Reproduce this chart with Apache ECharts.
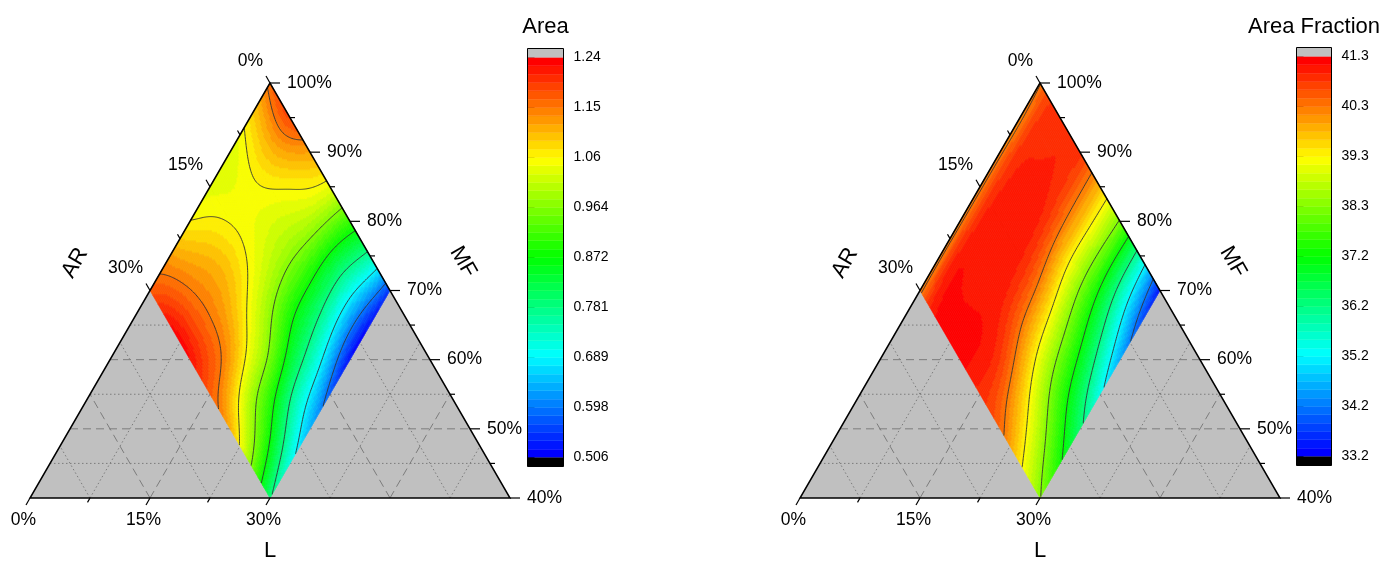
<!DOCTYPE html>
<html>
<head>
<meta charset="utf-8">
<title>Area / Area Fraction ternary contours</title>
<script src="https://cdn.jsdelivr.net/npm/echarts@6/dist/echarts.min.js"></script>
<style>
  html, body { margin: 0; padding: 0; background: #fff; }
  #chart { width: 1386px; height: 561px; }
</style>
</head>
<body>
<div id="chart"></div>
<script>
// Composition nodes (%) at which both responses were sampled (MF = 100 - AR - L)
const AR_NODES = [0, 5, 10, 15, 20, 25, 30];
const L_NODES_AREA = [0, 5, 10, 15, 20, 25, 30];
const L_NODES_FRACTION = [0, 2, 5, 10, 15, 20, 25, 30];

// Area: one row per AR node, one column per L node
const AREA = [
  [1.160, 1.185, 1.120, 1.040, 0.910, 0.760, 0.550],
  [1.075, 1.100, 1.060, 1.000, 0.865, 0.710, 0.520],
  [1.030, 1.050, 1.030, 0.975, 0.860, 0.715, 0.520],
  [1.035, 1.055, 1.050, 0.990, 0.880, 0.750, 0.575],
  [1.058, 1.100, 1.100, 1.045, 0.950, 0.790, 0.640],
  [1.120, 1.150, 1.155, 1.120, 1.000, 0.880, 0.710],
  [1.170, 1.225, 1.225, 1.170, 1.110, 0.975, 0.790]
];

// Area Fraction (%): one row per AR node, one column per L node
const AREA_FRACTION = [
  [40.25, 40.70, 40.90, 40.85, 39.75, 38.20, 35.85, 33.40],
  [40.15, 40.75, 40.95, 40.85, 39.75, 38.10, 36.00, 33.90],
  [40.15, 40.80, 41.00, 40.95, 39.80, 38.20, 36.50, 34.60],
  [40.15, 40.85, 41.02, 41.00, 40.10, 38.60, 37.10, 35.40],
  [40.15, 40.90, 41.05, 41.05, 40.35, 39.05, 37.70, 36.40],
  [40.15, 40.95, 41.14, 41.14, 40.80, 39.75, 38.60, 37.35],
  [40.15, 40.85, 41.20, 41.20, 40.90, 40.45, 39.40, 38.30]
];

// Colour scale ranges and their tick labels
const AREA_RANGE = [0.506, 1.24];
const AREA_TICKS = ['0.506', '0.598', '0.689', '0.781', '0.872', '0.964', '1.06', '1.15', '1.24'];
const FRACTION_RANGE = [33.2, 41.3];
const FRACTION_TICKS = ['33.2', '34.2', '35.2', '36.2', '37.2', '38.3', '39.3', '40.3', '41.3'];

// Ternary axis ticks (%)
const MF_MAJOR = [100, 90, 80, 70, 60, 50, 40];
const MF_MINOR = [95, 85, 75, 65, 55, 45];
const AR_MAJOR = [0, 15, 30];
const AR_MINOR = [7.5, 22.5];
const L_MAJOR = [0, 15, 30];
const L_MINOR = [7.5, 22.5];

// Grid lines across the unsampled part of the triangle
const GRID_MAJOR_SIDE = [15, 45];            // constant AR and constant L
const GRID_MINOR_SIDE = [7.5, 22.5, 37.5, 52.5];
const GRID_MAJOR_MF = [60, 50];
const GRID_MINOR_MF = [65, 55, 45];

const BANDS = 48;          // colour levels per scale
const MAJOR_EVERY = 6;     // a labelled tick and a contour line every 6 levels
const STEP = 0.25;         // resampling step in % composition
const N = Math.round(30 / STEP);
const FONT = '"Liberation Sans", Arial, Helvetica, sans-serif';
const S60 = Math.sqrt(3) / 2;

// ternary (AR, L) -> cartesian data coordinates of the hidden axes
function T(ar, l) { return [l - ar, ar + l]; }

const STOPS = [[0, 0, 255], [0, 255, 255], [0, 255, 0], [255, 255, 0], [255, 0, 0]];
function bandColor(k) {
  if (k < 0) return '#000000';
  if (k >= BANDS) return '#c0c0c0';
  const t = k / (BANDS - 1) * 4;
  const i = Math.min(3, Math.floor(t)), f = t - i;
  const a = STOPS[i], b = STOPS[i + 1];
  const c = a.map((v, n) => Math.round(v + (b[n] - v) * f));
  return 'rgb(' + c[0] + ',' + c[1] + ',' + c[2] + ')';
}

// natural cubic spline: second derivatives at the nodes
function splineM(x, y) {
  const n = x.length, M = new Array(n).fill(0);
  if (n < 3) return M;
  const a = [], b = [], c = [], r = [];
  for (let i = 1; i < n - 1; i++) {
    const h0 = x[i] - x[i - 1], h1 = x[i + 1] - x[i];
    a.push(h0); b.push(2 * (h0 + h1)); c.push(h1);
    r.push(6 * ((y[i + 1] - y[i]) / h1 - (y[i] - y[i - 1]) / h0));
  }
  const m = b.length;
  for (let i = 1; i < m; i++) {
    const w = a[i] / b[i - 1];
    b[i] -= w * c[i - 1]; r[i] -= w * r[i - 1];
  }
  const s = new Array(m);
  s[m - 1] = r[m - 1] / b[m - 1];
  for (let i = m - 2; i >= 0; i--) s[i] = (r[i] - c[i] * s[i + 1]) / b[i];
  for (let i = 0; i < m; i++) M[i + 1] = s[i];
  return M;
}
function splineEval(x, y, M, q) {
  let i = 0;
  while (i < x.length - 2 && q > x[i + 1]) i++;
  const h = x[i + 1] - x[i], A = (x[i + 1] - q) / h, B = (q - x[i]) / h;
  return A * y[i] + B * y[i + 1] + ((A * A * A - A) * M[i] + (B * B * B - B) * M[i + 1]) * h * h / 6;
}

// resample the table onto a fine (AR, L) lattice
function sampleField(arNodes, lNodes, table) {
  const rowM = table.map(row => splineM(lNodes, row));
  const F = [];
  for (let i = 0; i <= N; i++) F.push(new Float64Array(N + 1));
  for (let j = 0; j <= N; j++) {
    const l = j * STEP;
    const col = table.map((row, r) => splineEval(lNodes, row, rowM[r], l));
    const cm = splineM(arNodes, col);
    for (let i = 0; i <= N; i++) F[i][j] = splineEval(arNodes, col, cm, i * STEP);
  }
  return F;
}

function bandOf(v, range) {
  const k = Math.floor((v - range[0]) / (range[1] - range[0]) * BANDS);
  return k < 0 ? -1 : (k >= BANDS ? BANDS : k);
}

// runs of equal colour level along L, one row of the lattice at a time
function buildCells(F, range) {
  const out = [];
  for (let i = 0; i < N; i++) {
    let start = 0, cur = null;
    for (let j = 0; j <= N; j++) {
      let k = null;
      if (j < N) k = bandOf((F[i][j] + F[i + 1][j] + F[i][j + 1] + F[i + 1][j + 1]) / 4, range);
      if (j === N || k !== cur) {
        if (cur !== null) out.push([i * STEP, (i + 1) * STEP, start * STEP, j * STEP, cur]);
        start = j; cur = k;
      }
    }
  }
  return out;
}

// marching squares; crossings are keyed by lattice edge and chained into polylines of [ar, l]
function buildContours(F, level, lines) {
  const point = key => {
    const [o, i, j] = key.split(',').map((v, n) => n ? +v : v);
    const v1 = F[i][j];
    const v2 = o === 'h' ? F[i][j + 1] : F[i + 1][j];
    const t = (level - v1) / (v2 - v1);
    return o === 'h' ? [i * STEP, (j + t) * STEP] : [(i + t) * STEP, j * STEP];
  };
  const adj = new Map();
  const link = (p, q) => {
    if (!adj.has(p)) adj.set(p, []);
    if (!adj.has(q)) adj.set(q, []);
    adj.get(p).push(q); adj.get(q).push(p);
  };
  const cross = (v1, v2) => (v1 < level) !== (v2 < level);
  for (let i = 0; i < N; i++) {
    for (let j = 0; j < N; j++) {
      const a = F[i][j], b = F[i][j + 1], c = F[i + 1][j + 1], d = F[i + 1][j];
      const e = [];
      if (cross(a, b)) e.push('h,' + i + ',' + j);
      if (cross(b, c)) e.push('v,' + i + ',' + (j + 1));
      if (cross(d, c)) e.push('h,' + (i + 1) + ',' + j);
      if (cross(a, d)) e.push('v,' + i + ',' + j);
      if (e.length === 2) link(e[0], e[1]);
      else if (e.length === 4) {
        const ctr = (a + b + c + d) / 4;
        if ((ctr < level) === (a < level)) { link(e[0], e[1]); link(e[2], e[3]); }
        else { link(e[0], e[3]); link(e[1], e[2]); }
      }
    }
  }
  const used = new Set();
  const walk = start => {
    const path = [start]; used.add(start);
    let cur = start;
    for (;;) {
      const nxt = adj.get(cur).find(k => !used.has(k));
      if (!nxt) break;
      used.add(nxt); path.push(nxt); cur = nxt;
    }
    return path;
  };
  // open chains first (ends touch the boundary), then closed loops
  adj.forEach((nb, k) => { if (nb.length === 1 && !used.has(k)) lines.push(walk(k).map(point)); });
  adj.forEach((nb, k) => {
    if (!used.has(k)) { const p = walk(k); p.push(p[0]); lines.push(p.map(point)); }
  });
}

function backgroundItem(api) {
  const c = (ar, l) => api.coord(T(ar, l));
  const kids = [{ type: 'polygon', shape: { points: [c(0, 0), c(60, 0), c(0, 60)] }, style: { fill: '#c0c0c0' } }];
  const gl = (p, q, major) => kids.push({
    type: 'line', shape: { x1: p[0], y1: p[1], x2: q[0], y2: q[1] },
    style: { stroke: '#7c7c7c', lineWidth: 1, lineDash: major ? [8, 5] : [1.5, 2.5] }
  });
  GRID_MAJOR_SIDE.forEach(v => { gl(c(60 - v, v), c(0, v), true); gl(c(v, 60 - v), c(v, 0), true); });
  GRID_MINOR_SIDE.forEach(v => { gl(c(60 - v, v), c(0, v), false); gl(c(v, 60 - v), c(v, 0), false); });
  GRID_MAJOR_MF.forEach(m => gl(c(100 - m, 0), c(0, 100 - m), true));
  GRID_MINOR_MF.forEach(m => gl(c(100 - m, 0), c(0, 100 - m), false));
  return { type: 'group', children: kids };
}

function cellItem(api) {
  const ar0 = api.value(0), ar1 = api.value(1), la = api.value(2), lb = api.value(3), k = api.value(4);
  const pts = [T(ar0, la), T(ar0, lb), T(ar1, lb), T(ar1, la)].map(q => api.coord(q));
  const col = bandColor(k);
  return { type: 'polygon', shape: { points: pts }, style: { fill: col, stroke: col, lineWidth: 0.6 } };
}

function lineItem(api, lines) {
  const pts = lines[api.value(0)].map(p => api.coord(T(p[0], p[1])));
  return { type: 'polyline', shape: { points: pts },
           style: { stroke: '#333333', lineWidth: 0.9, fill: 'none', lineJoin: 'round' } };
}

function frameItem(api) {
  const c = (ar, l) => api.coord(T(ar, l));
  const kids = [];
  const txt = (x, y, text, size, align, rot) => kids.push({
    type: 'text', x: x, y: y, rotation: rot || 0,
    style: { text: text, fill: '#000', fontSize: size, fontFamily: FONT, align: align, verticalAlign: 'middle' }
  });
  const tick = (p, dx, dy) => kids.push({
    type: 'line', shape: { x1: p[0], y1: p[1], x2: p[0] + dx, y2: p[1] + dy },
    style: { stroke: '#000', lineWidth: 1.2 }
  });
  kids.push({ type: 'polygon', shape: { points: [c(0, 0), c(60, 0), c(0, 60)] },
              style: { fill: 'none', stroke: '#000', lineWidth: 1.5 } });
  // MF along the right edge
  MF_MAJOR.forEach(m => { const p = c(0, 100 - m); tick(p, 10, 0); txt(p[0] + 17, p[1], m + '%', 17.5, 'left'); });
  MF_MINOR.forEach(m => tick(c(0, 100 - m), 5, 0));
  // AR along the left edge
  AR_MAJOR.forEach(a => { const p = c(a, 0); tick(p, -4, -8 * S60); txt(p[0] - 7, p[1] - 22, a + '%', 17.5, 'right'); });
  AR_MINOR.forEach(a => tick(c(a, 0), -2.5, -5 * S60));
  // L along the bottom edge
  L_MAJOR.forEach(l => { const p = c(60 - l, l); tick(p, -4, 8 * S60); txt(p[0] - 6.5, p[1] + 22, l + '%', 17.5, 'center'); });
  L_MINOR.forEach(l => tick(c(60 - l, l), -2.5, 5 * S60));
  // axis titles
  const top = c(0, 0), bottom = c(30, 30);
  txt(top[0] - 195, top[1] + 180, 'AR', 22, 'center', Math.PI / 3);
  txt(top[0] + 193, top[1] + 179, 'MF', 22, 'center', -Math.PI / 3);
  txt(bottom[0], bottom[1] + 53, 'L', 22, 'center');
  return { type: 'group', children: kids };
}

function bandItem(api) {
  const k = api.value(1);
  const a = api.coord([0, k]), b = api.coord([1, k + 1]);
  const col = bandColor(k);
  return { type: 'rect', shape: { x: a[0], y: b[1], width: b[0] - a[0], height: a[1] - b[1] },
           style: { fill: col, stroke: col, lineWidth: 0.4 } };
}

function barFrameItem(api) {
  const p0 = api.coord([0, 0]), p1 = api.coord([1, BANDS]);
  const x = p0[0], w = p1[0] - p0[0], yTop = p1[1], yBot = p0[1], cap = 9;
  return { type: 'group', children: [
    { type: 'rect', shape: { x: x, y: yTop - cap, width: w, height: cap }, style: { fill: bandColor(BANDS) } },
    { type: 'rect', shape: { x: x, y: yBot, width: w, height: cap }, style: { fill: bandColor(-1) } },
    { type: 'rect', shape: { x: x, y: yTop - cap, width: w, height: yBot - yTop + 2 * cap },
      style: { fill: 'none', stroke: '#000', lineWidth: 1 } }
  ] };
}

const PANELS = [
  { table: AREA, lNodes: L_NODES_AREA, range: AREA_RANGE, ticks: AREA_TICKS, title: 'Area',
    tri: { left: 30, top: 83, width: 480, height: 415 },
    bar: { left: 527.5, top: 57.5, width: 36, height: 400 } },
  { table: AREA_FRACTION, lNodes: L_NODES_FRACTION, range: FRACTION_RANGE, ticks: FRACTION_TICKS, title: 'Area Fraction',
    tri: { left: 800, top: 83, width: 480, height: 415 },
    bar: { left: 1296.5, top: 56.5, width: 35, height: 400 } }
];

const grid = [], xAxis = [], yAxis = [], series = [], graphic = [];
const BAND_ROWS = Array.from({ length: BANDS }, (_, k) => [0.5, k]);

PANELS.forEach(p => {
  const F = sampleField(AR_NODES, p.lNodes, p.table);
  const cells = buildCells(F, p.range);
  const lines = [];
  const majors = BANDS / MAJOR_EVERY;
  for (let j = 1; j < majors; j++) {
    buildContours(F, p.range[0] + (p.range[1] - p.range[0]) * j / majors, lines);
  }

  const gi = grid.length;
  grid.push(Object.assign({ outerBoundsMode: 'none', containLabel: false }, p.tri));
  xAxis.push({ gridIndex: gi, type: 'value', min: -60, max: 60, show: false });
  yAxis.push({ gridIndex: gi, type: 'value', min: 0, max: 60, inverse: true, show: false });

  const bi = grid.length;
  grid.push(Object.assign({ outerBoundsMode: 'none', containLabel: false }, p.bar));
  xAxis.push({ gridIndex: bi, type: 'value', min: 0, max: 1, show: false });
  yAxis.push({
    gridIndex: bi, type: 'value', min: 0, max: BANDS, interval: MAJOR_EVERY, position: 'right',
    axisLine: { show: false }, splitLine: { show: false },
    axisTick: { show: true, length: 7, lineStyle: { color: '#000', width: 1 } },
    axisLabel: { margin: 10, fontSize: 14, fontFamily: FONT, color: '#000',
                 showMinLabel: true, showMaxLabel: true,
                 formatter: v => p.ticks[Math.round(v / MAJOR_EVERY)] }
  });

  const base = { type: 'custom', coordinateSystem: 'cartesian2d', xAxisIndex: gi, yAxisIndex: gi,
                 animation: false, progressive: 0, silent: true, clip: false };
  series.push(Object.assign({}, base, { z: 1, data: [[0, 0]], renderItem: (prm, api) => backgroundItem(api) }));
  series.push(Object.assign({}, base, { z: 2, data: cells, renderItem: (prm, api) => cellItem(api) }));
  series.push(Object.assign({}, base, { z: 3, data: lines.map((_, n) => [n, 0]),
                                        renderItem: (prm, api) => lineItem(api, lines) }));
  series.push(Object.assign({}, base, { z: 4, data: [[0, 0]], renderItem: (prm, api) => frameItem(api) }));

  const bbase = Object.assign({}, base, { xAxisIndex: bi, yAxisIndex: bi });
  series.push(Object.assign({}, bbase, { z: 2, data: BAND_ROWS, renderItem: (prm, api) => bandItem(api) }));
  series.push(Object.assign({}, bbase, { z: 3, data: [[0, 0]], renderItem: (prm, api) => barFrameItem(api) }));

  graphic.push({ type: 'text', x: p.bar.left + p.bar.width / 2, y: 27,
                 style: { text: p.title, fill: '#000', fontSize: 22, fontFamily: FONT,
                          align: 'center', verticalAlign: 'middle' } });
});

const chart = echarts.init(document.getElementById('chart'), null, { renderer: 'canvas' });
chart.setOption({ animation: false, backgroundColor: '#fff', grid, xAxis, yAxis, series, graphic });
</script>
</body>
</html>
